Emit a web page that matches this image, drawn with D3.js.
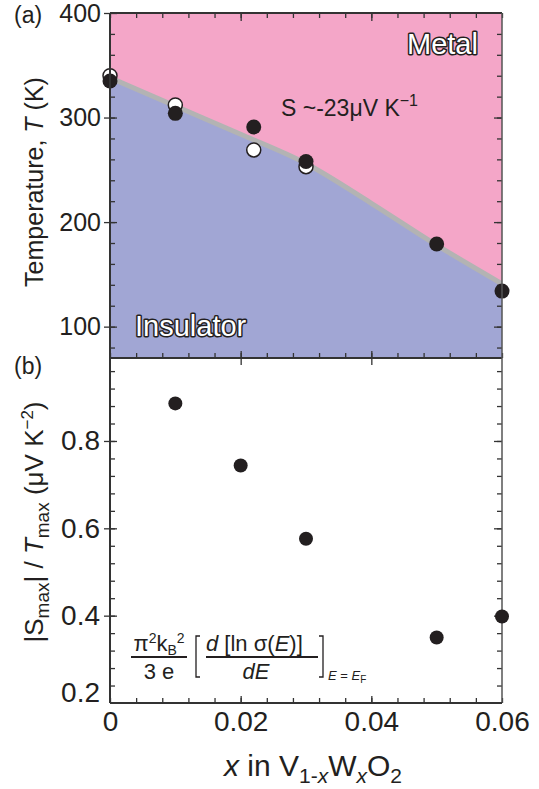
<!DOCTYPE html>
<html>
<head>
<meta charset="utf-8">
<script src="https://cdn.jsdelivr.net/npm/d3@7"></script>
<style>
  body { margin: 0; background: #fff; }
  text { font-family: "Liberation Sans", Arial, Helvetica, sans-serif; fill: #231f20; }
</style>
</head>
<body>
<div id="chart"></div>
<script>
// phase boundary of V(1-x)W(x)O2
var boundaryX = [0, 0.01, 0.02, 0.03, 0.04, 0.05, 0.06];
var boundaryT = [338, 311, 284, 256, 218, 178, 141];

// transition temperatures (filled / open symbols)
var filledX = [0, 0.01, 0.022, 0.03, 0.05, 0.06];
var filledT = [335, 304, 291, 258, 179, 134];
var openX = [0, 0.01, 0.022, 0.03];
var openT = [340, 312, 269, 253];

// |Smax| / Tmax
var slopeX = [0.01, 0.02, 0.03, 0.05, 0.06];
var slopeV = [0.886, 0.744, 0.576, 0.35, 0.398];

// tick labels
var xTicks = [0, 0.02, 0.04, 0.06];
var tTicks = [100, 200, 300, 400];
var sTicks = [0.2, 0.4, 0.6, 0.8];

var svgWidth = 539;
var svgHeight = 789;

var left = 110, right = 502;
var topA = 13, botA = 358, botB = 703;

var svg = d3.select("#chart")
  .append("svg")
  .attr("width", svgWidth)
  .attr("height", svgHeight);

var x = d3.scaleLinear().domain([0, 0.06]).range([left, right]);
var yA = d3.scaleLinear().domain([70, 400]).range([botA, topA]);
var yB = d3.scaleLinear().domain([0.2, 0.99]).range([botB, botA]);

var pink = "#f4a6c8";
var blue = "#a1a6d4";
var ink = "#231f20";

// rich text helper: parts = [{t, shift, size, italic}]
function rich(sel, parts, baseSize) {
  var cur = 0;
  parts.forEach(function(p) {
    var s = p.shift || 0;
    var ts = sel.append("tspan")
      .attr("dy", s - cur)
      .attr("font-size", p.size || baseSize)
      .text(p.t);
    if (p.italic) ts.attr("font-style", "italic");
    cur = s;
  });
}

// ---------- panel (a) ----------
svg.append("clipPath").attr("id", "clipA")
  .append("rect")
  .attr("x", left).attr("y", topA)
  .attr("width", right - left).attr("height", botA - topA);

var bData = boundaryX.map(function(d, i) { return { x: d, t: boundaryT[i] }; });

var gA = svg.append("g").attr("clip-path", "url(#clipA)");

gA.append("path")
  .datum(bData)
  .attr("fill", pink)
  .attr("d", d3.area()
    .curve(d3.curveMonotoneX)
    .x(d => x(d.x)).y0(yA(400)).y1(d => yA(d.t)));

gA.append("path")
  .datum(bData)
  .attr("fill", blue)
  .attr("d", d3.area()
    .curve(d3.curveMonotoneX)
    .x(d => x(d.x)).y0(yA(70)).y1(d => yA(d.t)));

gA.append("path")
  .datum(bData)
  .attr("fill", "none")
  .attr("stroke", "#b3b3b3")
  .attr("stroke-width", 5)
  .attr("d", d3.line()
    .curve(d3.curveMonotoneX)
    .x(d => x(d.x)).y(d => yA(d.t)));

// axes for panel a
function styleAxis(g, col) {
  g.selectAll(".tick line").attr("stroke", col || "#333").attr("stroke-width", 1.3);
  g.select(".domain").remove();
  g.selectAll("text").attr("fill", ink);
}

var tMinor = d3.range(80, 400, 20);
var xMinor = d3.range(0, 0.0601, 0.004);

// left
svg.append("g").attr("transform", `translate(${left},0)`)
  .call(d3.axisLeft(yA).tickValues(tTicks).tickSize(6).tickPadding(3))
  .call(g => styleAxis(g))
  .selectAll("text").attr("font-size", 25);
svg.append("g").attr("transform", `translate(${left},0)`)
  .call(d3.axisLeft(yA).tickValues(tTicks).tickSize(-7).tickFormat(""))
  .call(g => styleAxis(g));
svg.append("g").attr("transform", `translate(${left},0)`)
  .call(d3.axisLeft(yA).tickValues(tMinor).tickSize(-5).tickFormat(""))
  .call(g => styleAxis(g));
// right
svg.append("g").attr("transform", `translate(${right},0)`)
  .call(d3.axisRight(yA).tickValues(tMinor).tickSize(-5).tickFormat(""))
  .call(g => styleAxis(g));
svg.append("g").attr("transform", `translate(${right},0)`)
  .call(d3.axisRight(yA).tickValues([100, 200, 300]).tickSize(-8).tickFormat(""))
  .call(g => styleAxis(g));
// top
svg.append("g").attr("transform", `translate(0,${topA})`)
  .call(d3.axisTop(x).tickValues(xMinor).tickSize(-5).tickFormat(""))
  .call(g => styleAxis(g));
svg.append("g").attr("transform", `translate(0,${topA})`)
  .call(d3.axisTop(x).tickValues([0.02, 0.04]).tickSize(-8).tickFormat(""))
  .call(g => styleAxis(g));
// bottom of a
svg.append("g").attr("transform", `translate(0,${botA})`)
  .call(d3.axisBottom(x).tickValues(xMinor).tickSize(-5).tickFormat(""))
  .call(g => styleAxis(g));
svg.append("g").attr("transform", `translate(0,${botA + 7})`)
  .call(d3.axisBottom(x).tickValues([0.02, 0.04]).tickSize(-14).tickFormat(""))
  .call(g => styleAxis(g));

// frame a
svg.append("line").attr("x1", left).attr("x2", right).attr("y1", topA).attr("y2", topA)
  .attr("stroke", "#333").attr("stroke-width", 2);
svg.append("line").attr("x1", left).attr("x2", right).attr("y1", botA).attr("y2", botA)
  .attr("stroke", "#333").attr("stroke-width", 2);

// points a (open first, filled on top)
svg.append("g").selectAll("circle")
  .data(openX.map((d, i) => ({ x: d, t: openT[i] })))
  .enter().append("circle")
  .attr("cx", d => x(d.x)).attr("cy", d => yA(d.t))
  .attr("r", 7)
  .attr("fill", "#fff").attr("stroke", ink).attr("stroke-width", 1.5);

svg.append("g").selectAll("circle")
  .data(filledX.map((d, i) => ({ x: d, t: filledT[i] })))
  .enter().append("circle")
  .attr("cx", d => x(d.x)).attr("cy", d => yA(d.t))
  .attr("r", 7.5)
  .attr("fill", ink);

// labels a
function outlined(txt, px, py) {
  svg.append("text")
    .attr("x", px).attr("y", py)
    .attr("font-size", 29)
    .attr("fill", "#fff")
    .attr("stroke", ink).attr("stroke-width", 3)
    .attr("paint-order", "stroke")
    .attr("stroke-linejoin", "round")
    .style("fill", "#fff")
    .text(txt);
}
outlined("Metal", 407, 54);
outlined("Insulator", 135, 336);

var sTxt = svg.append("text").attr("x", 281).attr("y", 116);
rich(sTxt, [
  { t: "S ~-23\u03bcV K" },
  { t: "\u22121", shift: -10, size: 16 }
], 23);

svg.append("text").attr("x", 14).attr("y", 23).attr("font-size", 23).text("(a)");

var ylabA = svg.append("text")
  .attr("transform", "translate(43,182) rotate(-90)")
  .attr("text-anchor", "middle");
rich(ylabA, [
  { t: "Temperature, " },
  { t: "T", italic: true },
  { t: " (K)" }
], 25);

// ---------- panel (b) ----------
var sMinor = d3.range(0.24, 0.99, 0.04);

svg.append("g").attr("transform", `translate(${left},0)`)
  .call(d3.axisLeft(yB).tickValues(sTicks).tickSize(0).tickPadding(10).tickFormat(d3.format(".1f")))
  .call(g => styleAxis(g))
  .call(g => g.selectAll("text").attr("font-size", 28))
  .call(g => g.selectAll(".tick").filter(d => d === 0.2).select("text").attr("dy", "-0.05em"));
svg.append("g").attr("transform", `translate(${left},0)`)
  .call(d3.axisLeft(yB).tickValues([0.4, 0.6, 0.8]).tickSize(6).tickFormat(""))
  .call(g => styleAxis(g));
svg.append("g").attr("transform", `translate(${left},0)`)
  .call(d3.axisLeft(yB).tickValues(sMinor).tickSize(-5).tickFormat(""))
  .call(g => styleAxis(g));
svg.append("g").attr("transform", `translate(${left},0)`)
  .call(d3.axisLeft(yB).tickValues([0.4, 0.6, 0.8]).tickSize(-7).tickFormat(""))
  .call(g => styleAxis(g));

svg.append("g").attr("transform", `translate(${right},0)`)
  .call(d3.axisRight(yB).tickValues(sMinor).tickSize(-5).tickFormat(""))
  .call(g => styleAxis(g));
svg.append("g").attr("transform", `translate(${right},0)`)
  .call(d3.axisRight(yB).tickValues([0.4, 0.6, 0.8]).tickSize(-8).tickFormat(""))
  .call(g => styleAxis(g));

svg.append("g").attr("transform", `translate(0,${botB})`)
  .call(d3.axisBottom(x).tickValues(xMinor).tickSize(-5).tickFormat(""))
  .call(g => styleAxis(g));
svg.append("g").attr("transform", `translate(0,${botB})`)
  .call(d3.axisBottom(x).tickValues([0.02, 0.04]).tickSize(-7).tickFormat(""))
  .call(g => styleAxis(g));
svg.append("g").attr("transform", `translate(0,${botB})`)
  .call(d3.axisBottom(x).tickValues(xTicks).tickSize(0).tickPadding(8)
    .tickFormat(d => d === 0 ? "0" : d3.format(".2f")(d)))
  .call(g => styleAxis(g))
  .call(g => g.selectAll("text").attr("font-size", 28));

// frame lines
svg.append("line").attr("x1", left).attr("x2", left).attr("y1", topA).attr("y2", botB)
  .attr("stroke", "#333").attr("stroke-width", 2);
svg.append("line").attr("x1", right).attr("x2", right).attr("y1", topA).attr("y2", botB)
  .attr("stroke", "#555").attr("stroke-width", 1.5);
svg.append("line").attr("x1", left).attr("x2", right).attr("y1", botB).attr("y2", botB)
  .attr("stroke", "#333").attr("stroke-width", 2);

svg.append("g").selectAll("circle")
  .data(slopeX.map((d, i) => ({ x: d, v: slopeV[i] })))
  .enter().append("circle")
  .attr("cx", d => x(d.x)).attr("cy", d => yB(d.v))
  .attr("r", 7)
  .attr("fill", ink);

svg.append("text").attr("x", 14).attr("y", 374).attr("font-size", 23).text("(b)");

var ylabB = svg.append("text")
  .attr("transform", "translate(43,522) rotate(-90)")
  .attr("text-anchor", "middle");
rich(ylabB, [
  { t: "|S" },
  { t: "max", shift: 6, size: 19 },
  { t: "| / ", shift: 0 },
  { t: "T", italic: true },
  { t: "max", shift: 6, size: 19 },
  { t: "  (\u03bcV K", shift: 0 },
  { t: "\u22122", shift: -10, size: 17 },
  { t: ")", shift: 0 }
], 26);

// formula
var fs = 22;
var n1 = svg.append("text").attr("x", 159).attr("y", 651).attr("text-anchor", "middle");
rich(n1, [
  { t: "\u03c0" },
  { t: "2", shift: -8, size: 14 },
  { t: "k", shift: 0 },
  { t: "B", shift: 4, size: 14 },
  { t: "2", shift: -8, size: 14 }
], fs);
svg.append("line").attr("x1", 131).attr("x2", 187).attr("y1", 657).attr("y2", 657)
  .attr("stroke", ink).attr("stroke-width", 2);
svg.append("text").attr("x", 159).attr("y", 679).attr("text-anchor", "middle")
  .attr("font-size", fs).text("3 e");

svg.append("path").attr("d", "M200,636H196V677H200")
  .attr("fill", "none").attr("stroke", ink).attr("stroke-width", 1.3);

var n2 = svg.append("text").attr("x", 206).attr("y", 651);
rich(n2, [
  { t: "d", italic: true },
  { t: " [ln \u03c3(" },
  { t: "E", italic: true },
  { t: ")]" }
], fs);
svg.append("line").attr("x1", 206).attr("x2", 318).attr("y1", 657).attr("y2", 657)
  .attr("stroke", ink).attr("stroke-width", 2);
svg.append("text").attr("x", 256).attr("y", 679).attr("text-anchor", "middle")
  .attr("font-size", fs).attr("font-style", "italic").text("dE");

svg.append("path").attr("d", "M319,636H323V677H319")
  .attr("fill", "none").attr("stroke", ink).attr("stroke-width", 1.3);

var sub = svg.append("text").attr("x", 328).attr("y", 680);
rich(sub, [
  { t: "E", italic: true },
  { t: " = " },
  { t: "E", italic: true },
  { t: "F", shift: 3, size: 10 }
], 13);

// x axis title
var xlab = svg.append("text").attr("x", 313).attr("y", 776).attr("text-anchor", "middle");
rich(xlab, [
  { t: "x", italic: true },
  { t: " in V" },
  { t: "1-", shift: 7, size: 21 },
  { t: "x", shift: 7, size: 21, italic: true },
  { t: "W", shift: 0 },
  { t: "x", shift: 7, size: 21, italic: true },
  { t: "O", shift: 0 },
  { t: "2", shift: 7, size: 21 }
], 30);
</script>
</body>
</html>
